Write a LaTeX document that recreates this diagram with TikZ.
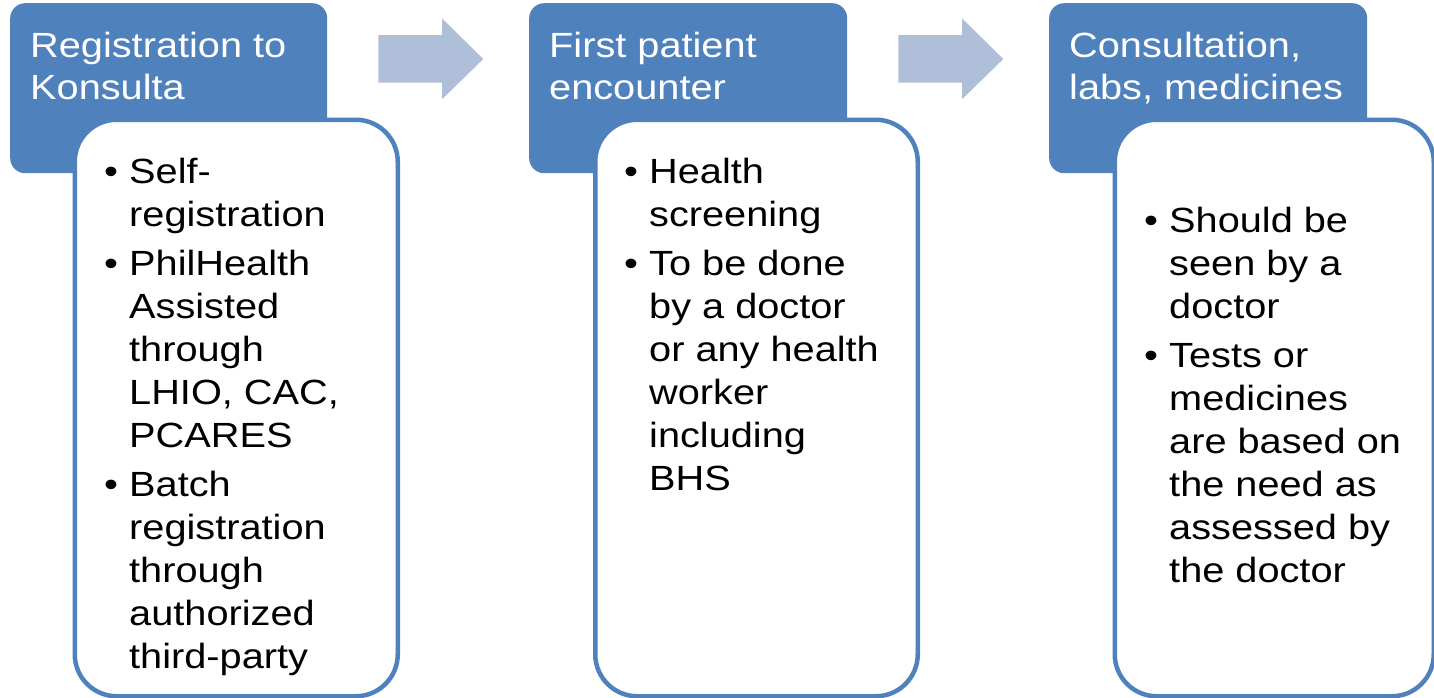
\documentclass[tikz,border=0pt]{standalone}
\usepackage{fontspec}
\setmainfont{Liberation Sans}[FakeStretch=1.135]
\definecolor{hdr}{RGB}{79,129,189}
\definecolor{arr}{RGB}{176,191,217}
\tikzset{
  hdrbox/.style={fill=hdr, draw=none, rounded corners=15pt, anchor=north west, inner sep=0pt},
  bodybox/.style={fill=white, draw=hdr, line width=4.5pt, rounded corners=42pt, anchor=north west, inner sep=0pt, minimum height=576.5pt},
  flowarrow/.style={fill=arr, draw=none},
  hdrtxt/.style={text=white, anchor=base west, inner sep=0pt, font=\fontsize{35}{42}\selectfont},
  bodytxt/.style={text=black, anchor=base west, inner sep=0pt, font=\fontsize{35}{43}\selectfont},
  bul/.style={bodytxt}
}
\begin{document}
\begin{tikzpicture}[x=1pt,y=-1pt]
\useasboundingbox (0,0) rectangle (1434,697);
% arrows
\fill[flowarrow] (378.3,35) -- (442,35) -- (442,18.3) -- (483.3,59) -- (442,99.3) -- (442,82.7) -- (378.3,82.7) -- cycle;
\fill[flowarrow] (898.3,35) -- (962,35) -- (962,18.3) -- (1003.3,59) -- (962,99.3) -- (962,82.7) -- (898.3,82.7) -- cycle;
% headers
\node[hdrbox, minimum width=317pt, minimum height=170pt] (h1) at (10,3) {};
\node[hdrbox, minimum width=318pt, minimum height=170pt] (h2) at (529,3) {};
\node[hdrbox, minimum width=318pt, minimum height=170pt] (h3) at (1049,3) {};
\node[hdrtxt] (h1a) at (30,57) {Registration to};
\node[hdrtxt] (h1b) at (30,99) {Konsulta};
\node[hdrtxt] (h2a) at (549,57) {First patient};
\node[hdrtxt] (h2b) at (549,99) {encounter};
\node[hdrtxt] (h3a) at (1069,57) {Consultation,};
\node[hdrtxt] (h3b) at (1069,99) {labs, medicines};
% content boxes
\node[bodybox, minimum width=323pt] (c1) at (72.5,117.5) {};
\node[bodybox, minimum width=322.5pt] (c2) at (593,117.5) {};
\node[bodybox, minimum width=319pt] (c3) at (1112.5,117.5) {};
% box 1 text
\node[bul] (b1a) at (104,183) {•};
\node[bodytxt] (t1a) at (129,183) {Self-};
\node[bodytxt] (t1b) at (129,226) {registration};
\node[bul] (b1b) at (104,275) {•};
\node[bodytxt] (t1c) at (129,275) {PhilHealth};
\node[bodytxt] (t1d) at (129,318) {Assisted};
\node[bodytxt] (t1e) at (129,361) {through};
\node[bodytxt] (t1f) at (129,404) {LHIO, CAC,};
\node[bodytxt] (t1g) at (129,447) {PCARES};
\node[bul] (b1c) at (104,496) {•};
\node[bodytxt] (t1h) at (129,496) {Batch};
\node[bodytxt] (t1i) at (129,539) {registration};
\node[bodytxt] (t1j) at (129,582) {through};
\node[bodytxt] (t1k) at (129,625) {authorized};
\node[bodytxt] (t1l) at (129,668) {third-party};
% box 2 text
\node[bul] (b2a) at (624,183) {•};
\node[bodytxt] (t2a) at (649,183) {Health};
\node[bodytxt] (t2b) at (649,226) {screening};
\node[bul] (b2b) at (624,275) {•};
\node[bodytxt] (t2c) at (649,275) {To be done};
\node[bodytxt] (t2d) at (649,318) {by a doctor};
\node[bodytxt] (t2e) at (649,361) {or any health};
\node[bodytxt] (t2f) at (649,404) {worker};
\node[bodytxt] (t2g) at (649,447) {including};
\node[bodytxt] (t2h) at (649,490) {BHS};
% box 3 text
\node[bul] (b3a) at (1144,232) {•};
\node[bodytxt] (t3a) at (1169,232) {Should be};
\node[bodytxt] (t3b) at (1169,275) {seen by a};
\node[bodytxt] (t3c) at (1169,318) {doctor};
\node[bul] (b3b) at (1144,367) {•};
\node[bodytxt] (t3d) at (1169,367) {Tests or};
\node[bodytxt] (t3e) at (1169,410) {medicines};
\node[bodytxt] (t3f) at (1169,453) {are based on};
\node[bodytxt] (t3g) at (1169,496) {the need as};
\node[bodytxt] (t3h) at (1169,539) {assessed by};
\node[bodytxt] (t3i) at (1169,582) {the doctor};
\end{tikzpicture}
\end{document}
